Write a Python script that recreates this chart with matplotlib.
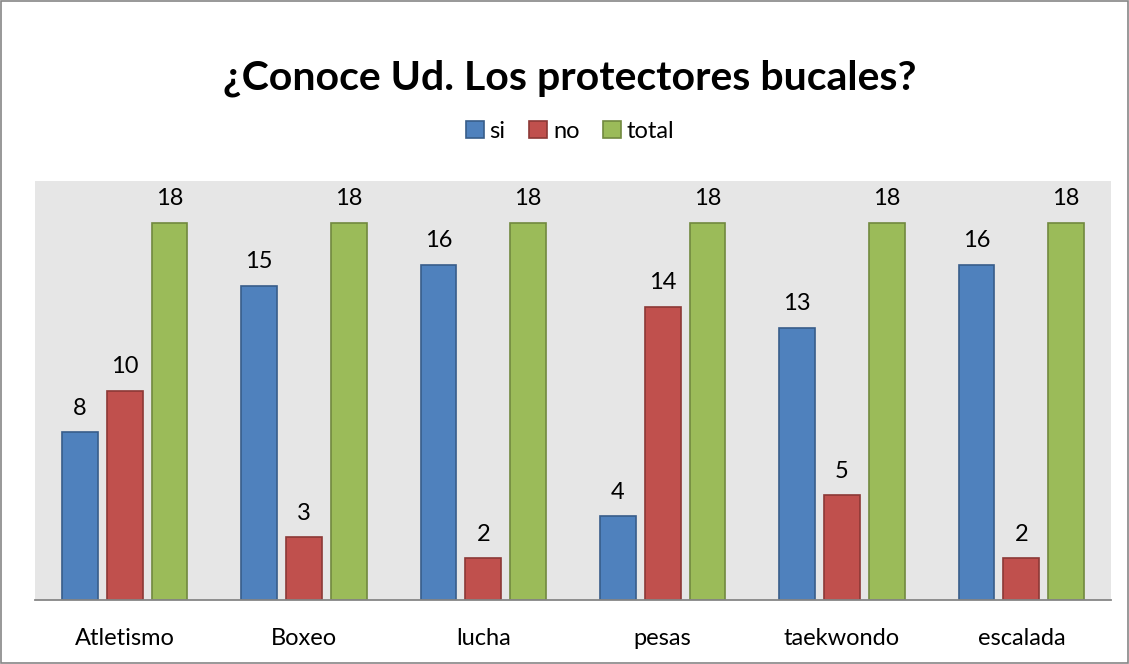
import matplotlib.pyplot as plt
import numpy as np
from matplotlib.patches import Rectangle

categories = ["Atletismo", "Boxeo", "lucha", "pesas", "taekwondo", "escalada"]
si = [8, 15, 16, 4, 13, 16]
no = [10, 3, 2, 14, 5, 2]
total = [18, 18, 18, 18, 18, 18]

plt.rcParams['font.family'] = ['Lato', 'DejaVu Sans']

fig = plt.figure(figsize=(11.29, 6.64), dpi=100)
ax = fig.add_axes([35 / 1129, 1 - 600 / 664, (1111 - 35) / 1129, (600 - 181) / 664])
ax.set_facecolor("#E6E6E6")

x = np.arange(len(categories))
w = 0.2
series = [
    ("si", si, "#4F81BD", "#385D8A", -0.25),
    ("no", no, "#C0504D", "#8C3836", 0.0),
    ("total", total, "#9BBB59", "#71893F", 0.25),
]
for name, vals, fc, ec, off in series:
    bars = ax.bar(x + off, vals, w, color=fc, edgecolor=ec, linewidth=1.2, label=name, zorder=2)
    for b, v in zip(bars, vals):
        ax.text(b.get_x() + b.get_width() / 2, v + 1.15, str(v), ha="center", va="center",
                fontsize=17, color="black")

ax.set_xlim(-0.5, len(categories) - 0.5)
ax.set_ylim(0, 20)
ax.set_yticks([])
ax.set_xticks(x)
ax.set_xticklabels(categories, fontsize=17)
ax.tick_params(axis="x", length=0, pad=20)
for s in ["top", "right", "left"]:
    ax.spines[s].set_visible(False)
ax.spines["bottom"].set_color("#868686")
ax.spines["bottom"].set_linewidth(1.3)

fig.text(0.505, 1 - 78 / 664, "¿Conoce Ud. Los protectores bucales?", ha="center", va="center",
         fontsize=29.5, fontweight="bold")

fig.legend(loc="center", bbox_to_anchor=(0.505, 1 - 131 / 664), ncol=3, frameon=False,
           fontsize=17, handlelength=0.75, handleheight=0.75, handletextpad=0.25, columnspacing=1.0)

fig.patches.append(Rectangle((0.001, 0.001), 0.998, 0.997, transform=fig.transFigure,
                             fill=False, edgecolor="#868686", linewidth=1.2))

fig.savefig("out.png", dpi=100)
